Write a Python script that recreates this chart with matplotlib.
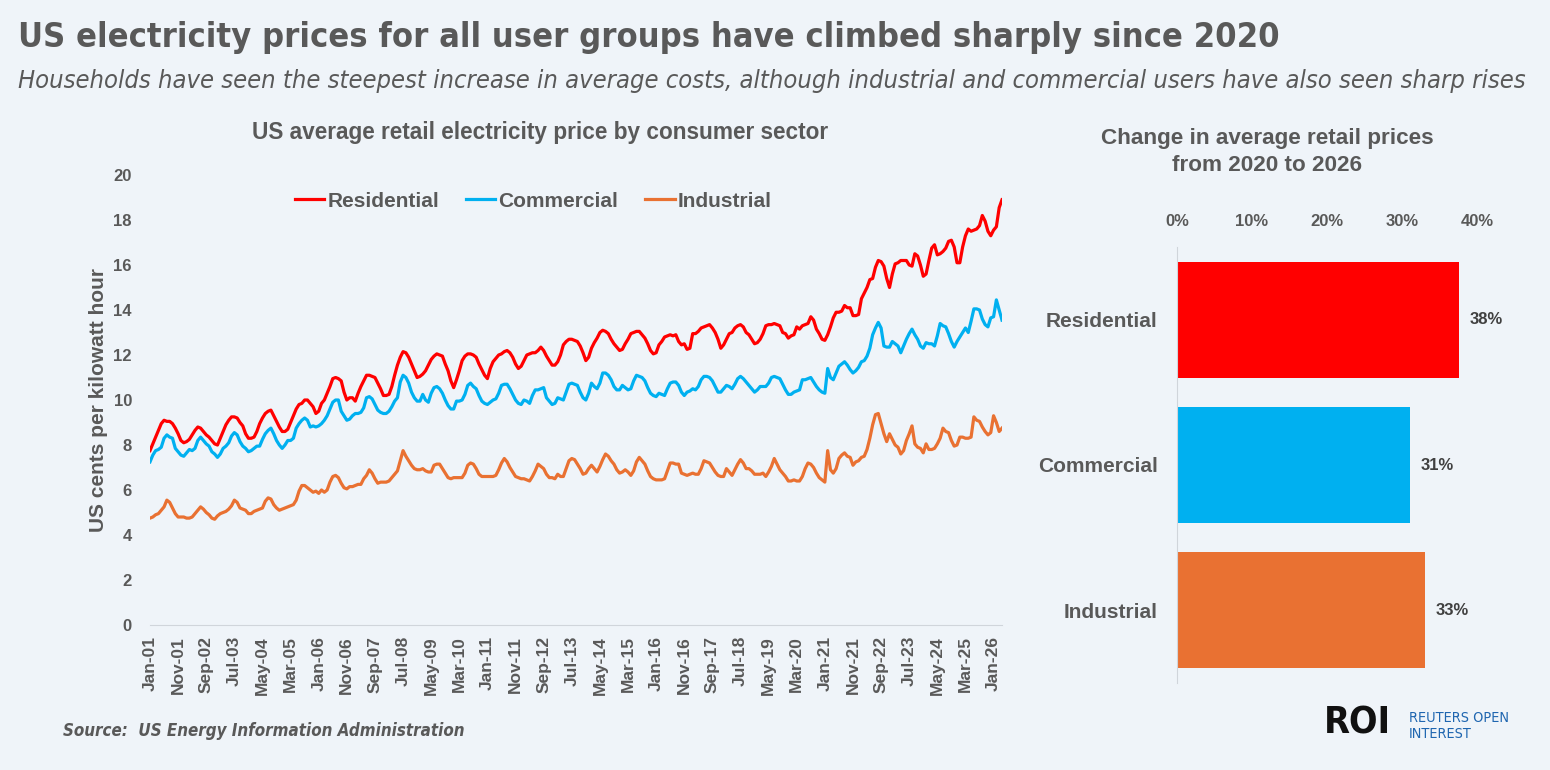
import matplotlib
matplotlib.use("Agg")
import matplotlib.pyplot as plt
from matplotlib import font_manager
import pandas as pd

# use a condensed face when one is installed, otherwise squeeze by size
fonts = font_manager.fontManager.ttflist
cond = {f.name for f in fonts if str(f.stretch) in ("condensed", "semi-condensed", "75", "87")}
if "DejaVu Sans" in cond:
    NARROW, STRETCH = "DejaVu Sans", "condensed"
elif "Liberation Sans Narrow" in {f.name for f in fonts}:
    NARROW, STRETCH = "Liberation Sans Narrow", "normal"
else:
    NARROW, STRETCH = "Liberation Sans", "normal"
SANS = "Liberation Sans"
plt.rcParams["font.family"] = [SANS, "DejaVu Sans"]

# monthly US average retail electricity price, cents/kWh, Jan 2001 - Apr 2026
residential = [
    7.75, 8.05, 8.35, 8.65, 8.95, 9.1, 9.05, 9.05, 8.95, 8.75, 8.5, 8.2,          # 2001
    8.1, 8.15, 8.25, 8.45, 8.65, 8.8, 8.75, 8.6, 8.45, 8.35, 8.2, 8.05,           # 2002
    8.0, 8.3, 8.6, 8.9, 9.1, 9.25, 9.25, 9.2, 9.0, 8.85, 8.5, 8.3,                # 2003
    8.3, 8.35, 8.6, 8.95, 9.2, 9.4, 9.5, 9.55, 9.3, 9.05, 8.8, 8.6,               # 2004
    8.6, 8.7, 9.0, 9.3, 9.6, 9.8, 9.85, 10.0, 10.0, 9.85, 9.7, 9.4,               # 2005
    9.5, 9.85, 10.0, 10.3, 10.6, 10.95, 11.0, 10.95, 10.85, 10.35, 10.0, 10.1,    # 2006
    10.1, 9.95, 10.3, 10.6, 10.85, 11.1, 11.1, 11.05, 11.0, 10.75, 10.5, 10.2,    # 2007
    10.2, 10.25, 10.6, 11.1, 11.55, 11.9, 12.15, 12.1, 11.9, 11.6, 11.3, 11.0,    # 2008
    11.05, 11.15, 11.3, 11.55, 11.8, 11.95, 12.05, 12.0, 11.95, 11.6, 11.3, 10.85,  # 2009
    10.55, 10.9, 11.3, 11.75, 11.95, 12.05, 12.05, 12.0, 11.9, 11.6, 11.35, 11.1,   # 2010
    10.95, 11.4, 11.7, 11.85, 12.0, 12.05, 12.15, 12.2, 12.1, 11.9, 11.6, 11.4,     # 2011
    11.5, 11.75, 12.0, 12.05, 12.1, 12.1, 12.2, 12.35, 12.2, 11.95, 11.75, 11.55,   # 2012
    11.55, 11.7, 12.0, 12.45, 12.6, 12.7, 12.7, 12.65, 12.6, 12.4, 12.1, 11.75,     # 2013
    11.9, 12.3, 12.55, 12.75, 13.0, 13.1, 13.05, 12.95, 12.7, 12.5, 12.35, 12.2,    # 2014
    12.25, 12.5, 12.7, 12.95, 13.0, 13.05, 13.05, 12.9, 12.75, 12.5, 12.2, 12.05,   # 2015
    12.1, 12.45, 12.6, 12.8, 12.85, 12.9, 12.85, 12.9, 12.6, 12.45, 12.5, 12.25,    # 2016
    12.3, 12.95, 12.95, 13.05, 13.2, 13.25, 13.3, 13.35, 13.2, 13.0, 12.7, 12.3,    # 2017
    12.45, 12.7, 12.95, 13.0, 13.2, 13.3, 13.35, 13.25, 13.0, 12.9, 12.7, 12.5,     # 2018
    12.55, 12.7, 12.95, 13.3, 13.35, 13.35, 13.4, 13.35, 13.3, 13.0, 12.95, 12.75,  # 2019
    12.85, 12.9, 13.25, 13.15, 13.3, 13.35, 13.4, 13.7, 13.55, 13.15, 12.95, 12.7,  # 2020
    12.65, 12.9, 13.25, 13.65, 13.9, 13.9, 13.95, 14.2, 14.1, 14.1, 13.75, 13.75,   # 2021
    13.8, 14.5, 14.75, 15.0, 15.35, 15.4, 15.9, 16.2, 16.15, 15.95, 15.4, 15.0,     # 2022
    15.6, 16.05, 16.1, 16.2, 16.2, 16.2, 16.0, 15.95, 16.5, 16.4, 16.0, 15.5,       # 2023
    15.6, 16.2, 16.75, 16.9, 16.45, 16.5, 16.6, 16.75, 17.05, 17.1, 16.8, 16.1,     # 2024
    16.1, 16.8, 17.3, 17.6, 17.5, 17.55, 17.6, 17.75, 18.2, 17.95, 17.5, 17.3,      # 2025
    17.55, 17.7, 18.55, 18.9,                                                       # 2026
]

commercial = [
    7.25, 7.55, 7.75, 7.8, 7.9, 8.3, 8.45, 8.35, 8.3, 7.85, 7.7, 7.55,            # 2001
    7.5, 7.65, 7.8, 7.75, 7.85, 8.2, 8.35, 8.2, 8.05, 7.95, 7.7, 7.6,             # 2002
    7.45, 7.6, 7.85, 7.95, 8.1, 8.4, 8.55, 8.45, 8.15, 7.95, 7.85, 7.7,           # 2003
    7.75, 7.85, 7.95, 7.95, 8.25, 8.5, 8.65, 8.75, 8.5, 8.2, 8.0, 7.85,           # 2004
    8.0, 8.2, 8.2, 8.3, 8.75, 8.95, 9.1, 9.2, 9.1, 8.8, 8.85, 8.8,                # 2005
    8.85, 8.95, 9.1, 9.3, 9.6, 9.9, 10.0, 10.0, 9.5, 9.3, 9.1, 9.15,              # 2006
    9.3, 9.4, 9.4, 9.45, 9.65, 10.1, 10.15, 10.05, 9.8, 9.55, 9.45, 9.4,          # 2007
    9.4, 9.5, 9.7, 9.95, 10.1, 10.8, 11.1, 11.0, 10.75, 10.35, 10.1, 9.95,        # 2008
    9.95, 10.25, 10.0, 9.9, 10.3, 10.55, 10.6, 10.5, 10.3, 10.0, 9.75, 9.6,       # 2009
    9.6, 9.95, 9.95, 10.0, 10.25, 10.65, 10.75, 10.6, 10.5, 10.2, 9.95, 9.85,     # 2010
    9.8, 9.9, 10.0, 10.05, 10.3, 10.65, 10.7, 10.7, 10.5, 10.25, 10.0, 9.85,      # 2011
    9.8, 10.0, 9.95, 9.85, 10.2, 10.45, 10.45, 10.5, 10.55, 10.1, 9.95, 9.8,      # 2012
    9.85, 10.1, 10.05, 10.0, 10.35, 10.7, 10.75, 10.7, 10.65, 10.35, 10.1, 10.0,  # 2013
    10.3, 10.75, 10.6, 10.5, 10.75, 11.2, 11.2, 11.1, 10.9, 10.6, 10.45, 10.45,   # 2014
    10.65, 10.55, 10.45, 10.5, 10.85, 11.1, 11.05, 11.0, 10.85, 10.55, 10.3, 10.2,  # 2015
    10.15, 10.3, 10.25, 10.2, 10.5, 10.75, 10.8, 10.8, 10.65, 10.35, 10.2, 10.35,   # 2016
    10.4, 10.5, 10.45, 10.6, 10.9, 11.05, 11.05, 11.0, 10.85, 10.6, 10.35, 10.35,   # 2017
    10.5, 10.65, 10.6, 10.5, 10.7, 10.95, 11.05, 10.95, 10.8, 10.65, 10.5, 10.35,   # 2018
    10.45, 10.6, 10.6, 10.6, 10.75, 11.0, 11.05, 11.0, 10.95, 10.7, 10.45, 10.25,   # 2019
    10.25, 10.35, 10.4, 10.45, 10.9, 10.9, 10.95, 11.0, 10.8, 10.6, 10.45, 10.35,   # 2020
    10.3, 11.4, 11.0, 10.9, 11.2, 11.5, 11.6, 11.7, 11.55, 11.35, 11.2, 11.3,       # 2021
    11.45, 11.7, 11.75, 11.95, 12.3, 12.9, 13.2, 13.45, 13.2, 12.4, 12.35, 12.35,   # 2022
    12.6, 12.5, 12.4, 12.1, 12.4, 12.7, 12.95, 13.15, 12.9, 12.7, 12.4, 12.3,       # 2023
    12.55, 12.5, 12.5, 12.4, 12.85, 13.4, 13.3, 13.25, 12.95, 12.6, 12.35, 12.6,    # 2024
    12.8, 13.0, 13.2, 13.0, 13.5, 14.05, 14.05, 14.0, 13.6, 13.35, 13.25, 13.65,    # 2025
    13.7, 14.45, 14.0, 13.55,                                                       # 2026
]

industrial = [
    4.75, 4.8, 4.9, 4.95, 5.1, 5.25, 5.55, 5.45, 5.2, 4.95, 4.8, 4.8,             # 2001
    4.8, 4.75, 4.75, 4.8, 4.95, 5.1, 5.25, 5.15, 5.0, 4.9, 4.75, 4.7,             # 2002
    4.85, 4.95, 5.0, 5.05, 5.15, 5.3, 5.55, 5.45, 5.2, 5.15, 5.1, 4.95,           # 2003
    4.95, 5.05, 5.1, 5.15, 5.2, 5.5, 5.65, 5.6, 5.35, 5.2, 5.1, 5.15,             # 2004
    5.2, 5.25, 5.3, 5.35, 5.55, 5.95, 6.2, 6.2, 6.1, 6.0, 5.9, 5.95,              # 2005
    5.85, 6.0, 5.9, 6.0, 6.35, 6.6, 6.65, 6.55, 6.3, 6.1, 6.05, 6.15,             # 2006
    6.15, 6.2, 6.25, 6.25, 6.5, 6.65, 6.9, 6.75, 6.5, 6.3, 6.35, 6.35,            # 2007
    6.35, 6.4, 6.55, 6.7, 6.85, 7.3, 7.75, 7.5, 7.3, 7.1, 6.95, 6.9,              # 2008
    6.9, 6.95, 6.85, 6.8, 6.8, 7.1, 7.15, 7.15, 6.95, 6.75, 6.55, 6.5,            # 2009
    6.55, 6.55, 6.55, 6.55, 6.75, 7.1, 7.2, 7.15, 6.95, 6.7, 6.6, 6.6,            # 2010
    6.6, 6.6, 6.6, 6.65, 6.9, 7.2, 7.4, 7.25, 7.0, 6.8, 6.6, 6.55,                # 2011
    6.5, 6.5, 6.45, 6.4, 6.6, 6.85, 7.15, 7.05, 6.95, 6.7, 6.55, 6.55,            # 2012
    6.5, 6.7, 6.6, 6.6, 6.95, 7.3, 7.4, 7.35, 7.15, 6.95, 6.7, 6.75,              # 2013
    6.95, 7.1, 6.95, 6.8, 7.05, 7.35, 7.6, 7.5, 7.3, 7.15, 6.9, 6.75,             # 2014
    6.8, 6.9, 6.8, 6.65, 6.85, 7.25, 7.45, 7.3, 7.15, 6.85, 6.6, 6.5,             # 2015
    6.45, 6.45, 6.45, 6.5, 6.85, 7.2, 7.2, 7.15, 7.15, 6.75, 6.7, 6.65,           # 2016
    6.7, 6.75, 6.7, 6.7, 6.95, 7.3, 7.25, 7.2, 7.0, 6.8, 6.65, 6.6,               # 2017
    6.6, 6.95, 6.8, 6.65, 6.9, 7.15, 7.35, 7.2, 6.95, 6.95, 6.85, 6.7,            # 2018
    6.7, 6.7, 6.75, 6.6, 6.8, 7.05, 7.4, 7.15, 6.9, 6.75, 6.6, 6.4,               # 2019
    6.4, 6.45, 6.4, 6.4, 6.6, 6.95, 7.2, 7.15, 7.0, 6.75, 6.55, 6.45,             # 2020
    6.35, 7.75, 6.9, 6.75, 6.95, 7.4, 7.55, 7.65, 7.5, 7.45, 7.1, 7.25,           # 2021
    7.3, 7.45, 7.5, 7.8, 8.3, 8.9, 9.35, 9.4, 8.95, 8.5, 8.15, 8.5,               # 2022
    8.25, 8.0, 7.9, 7.6, 7.75, 8.2, 8.5, 8.85, 8.05, 7.9, 7.85, 7.65,             # 2023
    8.05, 7.8, 7.8, 7.85, 8.05, 8.3, 8.75, 8.6, 8.55, 8.2, 7.95, 8.0,             # 2024
    8.35, 8.35, 8.3, 8.3, 8.35, 9.25, 9.1, 9.05, 8.8, 8.6, 8.45, 8.55,            # 2025
    9.3, 9.0, 8.6, 8.75,                                                          # 2026
]

sectors = ["Residential", "Commercial", "Industrial"]
change_2020_2026 = [0.376, 0.311, 0.331]
change_labels = ["38%", "31%", "33%"]

RED = "#FF0000"
BLUE = "#00B0F0"
ORANGE = "#E97132"
GREY = "#595959"
BG = "#EFF4F9"

months = pd.date_range("2001-01-01", periods=len(residential), freq="MS")
xs = list(range(len(months)))
tick_pos = xs[::10]
tick_lab = [months[i].strftime("%b-%y") for i in tick_pos]

fig = plt.figure(figsize=(15.5, 7.7), dpi=100, facecolor=BG)


def fit_width(t, target_px):
    r = fig.canvas.get_renderer()
    w = t.get_window_extent(renderer=r).width
    t.set_fontsize(t.get_fontsize() * target_px / w)


# titles
t1 = fig.text(18 / 1550, 1 - 38 / 770, "US electricity prices for all user groups have climbed sharply since 2020",
              fontsize=28, fontweight="bold", color=GREY, family=NARROW, fontstretch=STRETCH,
              va="center", ha="left")
fit_width(t1, 1257)
t2 = fig.text(18 / 1550, 1 - 81 / 770,
              "Households have seen the steepest increase in average costs, although industrial and commercial users have also seen sharp rises",
              fontsize=20, fontstyle="italic", color=GREY, family=NARROW, fontstretch=STRETCH,
              va="center", ha="left")
fit_width(t2, 1510)

# line chart
ax = fig.add_axes([150 / 1550, 145 / 770, 852 / 1550, 450 / 770])
ax.set_facecolor(BG)
ax.plot(xs, residential, color=RED, lw=2.3, label="Residential")
ax.plot(xs, commercial, color=BLUE, lw=2.3, label="Commercial")
ax.plot(xs, industrial, color=ORANGE, lw=2.3, label="Industrial")
ax.set_xlim(0, len(xs) - 1)
ax.set_ylim(0, 20)
ax.set_yticks(range(0, 21, 2))
ax.set_xticks(tick_pos)
ax.set_xticklabels(tick_lab, rotation=90)
ax.tick_params(axis="y", length=0, labelsize=12, labelcolor=GREY, pad=13)
ax.tick_params(axis="x", length=0, labelsize=12.5, labelcolor=GREY, pad=8)
for lab in ax.get_xticklabels() + ax.get_yticklabels():
    lab.set_fontweight("bold")
for s in ["top", "right", "left"]:
    ax.spines[s].set_visible(False)
ax.spines["bottom"].set_color("#D0D5DB")
ax.set_ylabel("US cents per kilowatt hour", fontsize=15, fontweight="bold", color=GREY, labelpad=4)
fig.text(540 / 1550, 1 - 132 / 770, "US average retail electricity price by consumer sector",
         fontsize=16.3, fontweight="bold", color=GREY, ha="center", va="center")
leg = ax.legend(loc="center", bbox_to_anchor=(0.45, 0.942), ncol=3, frameon=False,
                fontsize=15, handlelength=1.4, handletextpad=0.15, columnspacing=1.3)
for t in leg.get_texts():
    t.set_color(GREY)
    t.set_fontweight("bold")

# bar chart
bx = fig.add_axes([1177 / 1550, 87 / 770, 300 / 1550, 436 / 770])
bx.set_facecolor(BG)
bx.barh(range(3), change_2020_2026, height=0.8, color=[RED, BLUE, ORANGE])
bx.set_ylim(2.5, -0.5)
bx.set_xlim(0, 0.4)
bx.set_xticks([0, 0.1, 0.2, 0.3, 0.4])
bx.set_xticklabels(["0%", "10%", "20%", "30%", "40%"])
bx.xaxis.tick_top()
bx.set_yticks(range(3))
bx.set_yticklabels(sectors)
bx.tick_params(axis="x", length=0, labelsize=12, labelcolor=GREY, pad=13)
bx.tick_params(axis="y", length=0, labelsize=15, labelcolor=GREY, pad=14)
for lab in bx.get_xticklabels() + bx.get_yticklabels():
    lab.set_fontweight("bold")
for s in ["top", "right", "bottom"]:
    bx.spines[s].set_visible(False)
bx.spines["left"].set_color("#D0D5DB")
for i, (v, lab) in enumerate(zip(change_2020_2026, change_labels)):
    bx.text(v + 0.014, i, lab, va="center", ha="left", fontsize=12, fontweight="bold", color="#404040")
fig.text(1267 / 1550, 1 - 152 / 770, "Change in average retail prices\nfrom 2020 to 2026",
         ha="center", va="center", fontsize=16.2, fontweight="bold", color=GREY, linespacing=1.4)

# footer
t3 = fig.text(63 / 1550, 1 - 731 / 770, "Source:  US Energy Information Administration", fontsize=13,
              fontweight="bold", fontstyle="italic", color=GREY, family=NARROW, fontstretch=STRETCH,
              va="center")
fit_width(t3, 402)
fig.text(1324 / 1550, 1 - 724 / 770, "ROI", fontsize=27, fontweight="bold", color="#111111",
         family=NARROW, fontstretch=STRETCH, va="center")
t4 = fig.text(1409 / 1550, 1 - 726 / 770, "REUTERS OPEN\nINTEREST", fontsize=10, color="#1F66B0",
              family=NARROW, fontstretch=STRETCH, va="center", linespacing=1.1)
fit_width(t4, 100)

fig.savefig("out.png", dpi=100, facecolor=BG)
